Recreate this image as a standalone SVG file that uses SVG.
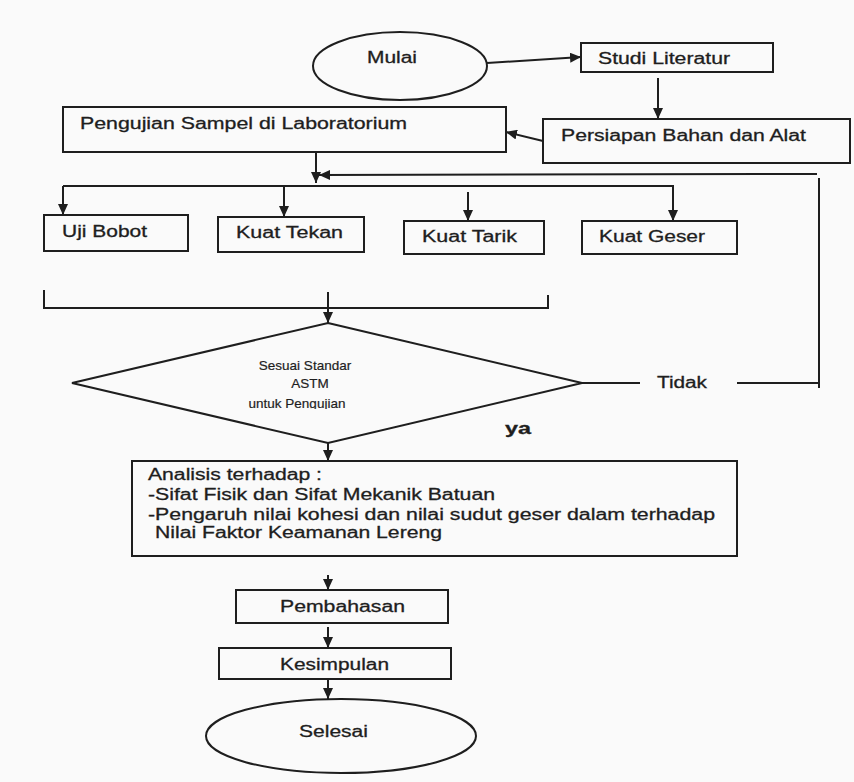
<svg xmlns="http://www.w3.org/2000/svg" width="854" height="782" viewBox="0 0 854 782">
<style>
  .shape { fill: none; stroke: #1e1e1e; stroke-width: 2; }
  .line { fill: none; stroke: #1e1e1e; stroke-width: 2; }
  .arrow { fill: none; stroke: #1e1e1e; stroke-width: 2; marker-end: url(#ah); }
  .t { font-family: "Liberation Sans", Arial, sans-serif; font-size: 16px; fill: #1e1e1e; stroke: #1e1e1e; stroke-width: 0.3; }
  .d { font-family: "Liberation Sans", Arial, sans-serif; font-size: 13.5px; fill: #1e1e1e; stroke: #1e1e1e; stroke-width: 0.2; text-anchor: middle; }
</style>
<defs>
  <marker id="ah" markerUnits="userSpaceOnUse" markerWidth="12" markerHeight="10" refX="11" refY="5" orient="auto">
    <path d="M0,0 L11,5 L0,10 z" fill="#1e1e1e"/>
  </marker>
  <clipPath id="clipPeng"><rect x="200" y="390" width="200" height="19"/></clipPath>
</defs>
<rect x="0" y="0" width="854" height="782" fill="#fafafa"/>

<g id="connectors">
  <line class="arrow" x1="487" y1="63" x2="581" y2="57"/>
  <line class="arrow" x1="658" y1="78" x2="658" y2="119"/>
  <line class="arrow" x1="543" y1="141" x2="506" y2="132"/>
  <line class="arrow" x1="316" y1="152" x2="316" y2="183"/>
  <line class="arrow" x1="817" y1="174" x2="319" y2="175"/>
  <line class="line" x1="819" y1="178" x2="819" y2="388"/>
  <line class="line" x1="582" y1="383" x2="640" y2="383"/>
  <line class="line" x1="737" y1="383" x2="818" y2="383"/>
  <line class="line" x1="63" y1="186" x2="674" y2="186"/>
  <line class="arrow" x1="63" y1="186" x2="63" y2="215"/>
  <line class="arrow" x1="284" y1="186" x2="284" y2="217"/>
  <line class="arrow" x1="468" y1="192" x2="468" y2="221"/>
  <line class="arrow" x1="673" y1="186" x2="673" y2="221"/>
  <path class="line" d="M44,290 V308 H548 V295"/>
  <line class="arrow" x1="328" y1="292" x2="328" y2="323"/>
  <line class="arrow" x1="328" y1="443" x2="328" y2="461"/>
  <line class="arrow" x1="328" y1="575" x2="328" y2="590"/>
  <line class="arrow" x1="328" y1="627" x2="328" y2="648"/>
  <line class="arrow" x1="328" y1="680" x2="328" y2="699"/>
  <text class="t" x="657" y="388" textLength="50" lengthAdjust="spacingAndGlyphs">Tidak</text>
  <text class="t" x="505" y="434" font-weight="bold" textLength="26" lengthAdjust="spacingAndGlyphs">ya</text>
</g>

<g id="mulai">
  <ellipse class="shape" cx="400" cy="66" rx="87" ry="34"/>
  <text class="t" x="367" y="63" textLength="50" lengthAdjust="spacingAndGlyphs">Mulai</text>
</g>

<g id="studi-literatur">
  <rect class="shape" x="581" y="43" width="192" height="29"/>
  <text class="t" x="598" y="64" textLength="132" lengthAdjust="spacingAndGlyphs">Studi Literatur</text>
</g>

<g id="persiapan">
  <rect class="shape" x="543" y="119" width="307" height="44"/>
  <text class="t" x="561" y="141" textLength="245" lengthAdjust="spacingAndGlyphs">Persiapan Bahan dan Alat</text>
</g>

<g id="pengujian">
  <rect class="shape" x="63" y="107" width="443" height="45"/>
  <text class="t" x="80" y="129" textLength="327" lengthAdjust="spacingAndGlyphs">Pengujian Sampel di Laboratorium</text>
</g>

<g id="uji-bobot">
  <rect class="shape" x="44" y="215" width="144" height="36"/>
  <text class="t" x="62" y="237" textLength="85" lengthAdjust="spacingAndGlyphs">Uji Bobot</text>
</g>

<g id="kuat-tekan">
  <rect class="shape" x="218" y="217" width="146" height="35"/>
  <text class="t" x="236" y="238" textLength="107" lengthAdjust="spacingAndGlyphs">Kuat Tekan</text>
</g>

<g id="kuat-tarik">
  <rect class="shape" x="404" y="221" width="140" height="33"/>
  <text class="t" x="422" y="242" textLength="95" lengthAdjust="spacingAndGlyphs">Kuat Tarik</text>
</g>

<g id="kuat-geser">
  <rect class="shape" x="582" y="221" width="155" height="33"/>
  <text class="t" x="599" y="242" textLength="106" lengthAdjust="spacingAndGlyphs">Kuat Geser</text>
</g>

<g id="sesuai-standar">
  <polygon class="shape" points="328,323 582,383 328,443 72,383"/>
  <text class="d" x="305" y="370">Sesuai Standar</text>
  <text class="d" x="310" y="388">ASTM</text>
  <text class="d" x="297" y="408" clip-path="url(#clipPeng)">untuk Pengujian</text>
</g>

<g id="analisis">
  <rect class="shape" x="132" y="461" width="605" height="95"/>
  <text class="t" x="148" y="480" textLength="174" lengthAdjust="spacingAndGlyphs">Analisis terhadap :</text>
  <text class="t" x="148" y="500" textLength="347" lengthAdjust="spacingAndGlyphs">-Sifat Fisik dan Sifat Mekanik Batuan</text>
  <text class="t" x="148" y="520" textLength="567" lengthAdjust="spacingAndGlyphs">-Pengaruh nilai kohesi dan nilai sudut geser dalam terhadap</text>
  <text class="t" x="155" y="538" textLength="287" lengthAdjust="spacingAndGlyphs">Nilai Faktor Keamanan Lereng</text>
</g>

<g id="pembahasan">
  <rect class="shape" x="236" y="590" width="212" height="33"/>
  <text class="t" x="280" y="612" textLength="125" lengthAdjust="spacingAndGlyphs">Pembahasan</text>
</g>

<g id="kesimpulan">
  <rect class="shape" x="219" y="648" width="232" height="31"/>
  <text class="t" x="280" y="670" textLength="109" lengthAdjust="spacingAndGlyphs">Kesimpulan</text>
</g>

<g id="selesai">
  <ellipse class="shape" cx="341" cy="736" rx="135" ry="37"/>
  <text class="t" x="299" y="737" textLength="69" lengthAdjust="spacingAndGlyphs">Selesai</text>
</g>
</svg>
